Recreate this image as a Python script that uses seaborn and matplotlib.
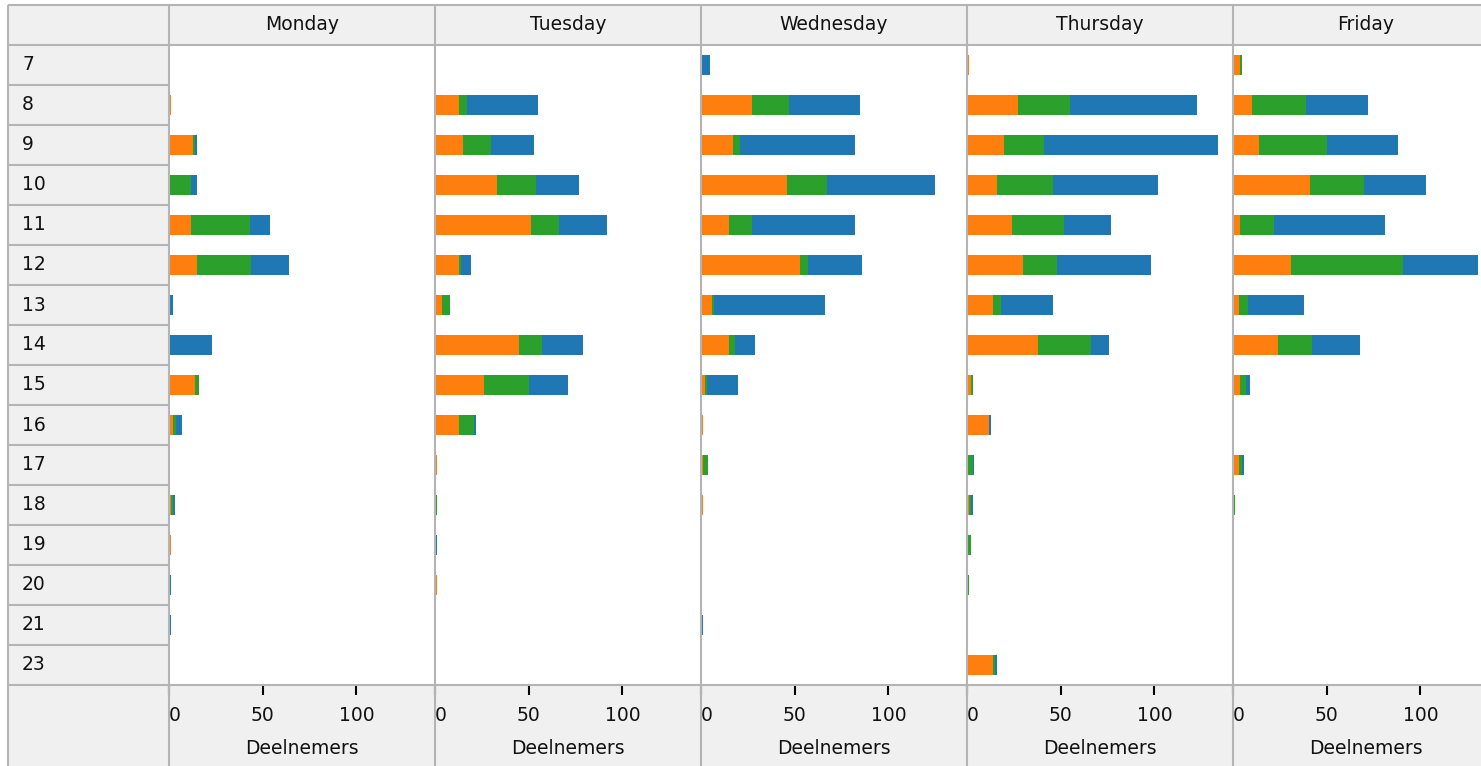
import numpy as np
import pandas as pd
import matplotlib
matplotlib.use("Agg")
import matplotlib.pyplot as plt
from matplotlib.lines import Line2D
from matplotlib.patches import Rectangle
import seaborn as sns

days = ['Monday', 'Tuesday', 'Wednesday', 'Thursday', 'Friday']
hours = ['7', '8', '9', '10', '11', '12', '13', '14', '15', '16', '17', '18', '19', '20', '21', '23']

# values per hour (7..21, 23) for each day, three stacked series
mon_orange = [0, 1, 13, 0, 12, 15, 0, 0, 14, 2, 0, 1, 1, 0, 0, 0]
mon_green = [0, 0, 1, 12, 31, 29, 0, 0, 2, 2, 0, 1, 0, 0, 0, 0]
mon_blue = [0, 0, 1, 3, 11, 20, 2, 23, 0, 3, 0, 1, 0, 1, 1, 0]

tue_orange = [0, 13, 15, 33, 51, 13, 4, 45, 26, 13, 1, 0, 0, 1, 0, 0]
tue_green = [0, 4, 15, 21, 15, 1, 4, 12, 24, 8, 0, 1, 0, 0, 0, 0]
tue_blue = [0, 38, 23, 23, 26, 5, 0, 22, 21, 1, 0, 0, 1, 0, 0, 0]

wed_orange = [0, 27, 17, 46, 15, 53, 6, 15, 2, 1, 1, 1, 0, 0, 0, 0]
wed_green = [0, 20, 4, 21, 12, 4, 1, 3, 1, 0, 3, 0, 0, 0, 0, 0]
wed_blue = [5, 38, 61, 58, 55, 29, 59, 11, 17, 0, 0, 0, 0, 0, 1, 0]

thu_orange = [1, 27, 20, 16, 24, 30, 14, 38, 2, 12, 0, 1, 0, 0, 0, 14]
thu_green = [0, 28, 21, 30, 28, 18, 4, 28, 1, 0, 3, 1, 2, 1, 0, 1]
thu_blue = [0, 68, 93, 56, 25, 50, 28, 10, 0, 1, 1, 1, 0, 0, 0, 1]

fri_orange = [4, 10, 14, 41, 4, 31, 3, 24, 4, 0, 3, 0, 0, 0, 0, 0]
fri_green = [1, 29, 36, 29, 18, 60, 5, 18, 3, 0, 2, 1, 0, 0, 0, 0]
fri_blue = [0, 33, 38, 33, 59, 40, 30, 26, 2, 0, 1, 0, 0, 0, 0, 0]

series = {
    'Monday': (mon_orange, mon_green, mon_blue),
    'Tuesday': (tue_orange, tue_green, tue_blue),
    'Wednesday': (wed_orange, wed_green, wed_blue),
    'Thursday': (thu_orange, thu_green, thu_blue),
    'Friday': (fri_orange, fri_green, fri_blue),
}

rows = []
for day in days:
    o, g, b = series[day]
    for i, h in enumerate(hours):
        rows.append({'day': day, 'hour': h, 'orange': o[i], 'green': g[i], 'blue': b[i]})
df = pd.DataFrame(rows)
df['c_orange'] = df['orange']
df['c_green'] = df['orange'] + df['green']
df['c_blue'] = df['c_green'] + df['blue']

plt.rcParams['font.family'] = ['DejaVu Sans']
FS = 13.5
LINE = '#b4b4b4'
BG = '#f0f0f0'

W, H = 1481, 766
fig = plt.figure(figsize=(W / 100, H / 100), dpi=100)
fig.patch.set_facecolor('white')

def fx(px):
    return px / W

def fy(py):
    return 1 - py / H

fig.add_artist(Rectangle((fx(8), 0), 1 - fx(8), fy(5), transform=fig.transFigure,
                         facecolor=BG, edgecolor='none', zorder=-5))

lefts = [169, 435, 701, 967, 1233]
pw = 266
top, bottom = 45, 685

for day, left in zip(days, lefts):
    ax = fig.add_axes([fx(left), fy(bottom), pw / W, (bottom - top) / H])
    ax.set_facecolor('white')
    sub = df[df['day'] == day]
    # stacked: draw the running totals from the longest down
    for col, color in [('c_blue', '#1f77b4'), ('c_green', '#2ca02c'), ('c_orange', '#ff7f0e')]:
        sns.barplot(data=sub, x=col, y='hour', order=hours, color=color, saturation=1,
                    width=0.52, errorbar=None, linewidth=0, ax=ax)
    ax.set_xlim(0, 142)
    ax.set_ylim(len(hours) - 0.5, -0.5)
    for s in ax.spines.values():
        s.set_visible(False)
    ax.set_ylabel('')
    ax.set_xlabel('')
    ax.set_yticks([])
    ax.set_xticks([0, 50, 100])
    ax.set_xticklabels(['0', '50', '100'])
    ax.tick_params(axis='x', direction='out', length=7, width=1.5, color='black',
                   labelsize=FS, labelcolor='#111111', pad=8)
    ax.get_xticklabels()[0].set_ha('left')
    fig.text(fx(left + pw / 2), fy(25), day, ha='center', va='center', fontsize=FS, color='#111111')
    fig.text(fx(left + pw / 2), fy(749), 'Deelnemers', ha='center', va='center', fontsize=FS, color='#111111')

for i, h in enumerate(hours):
    fig.text(fx(22), fy(65 + 40 * i), h, ha='left', va='center', fontsize=FS, color='#111111')

def seg(x0, y0, x1, y1):
    fig.add_artist(Line2D([fx(x0), fx(x1)], [fy(y0), fy(y1)], transform=fig.transFigure,
                          color=LINE, lw=1.5, zorder=5, solid_capstyle='butt'))

seg(8, 5, W, 5)
seg(8, 5, 8, H)
seg(8, top, W, top)
seg(8, bottom, W, bottom)
for k in range(1, len(hours)):
    seg(8, top + 40 * k, 169, top + 40 * k)
for left in lefts:
    seg(left, 5, left, H)

fig.savefig('out.png', dpi=100)
